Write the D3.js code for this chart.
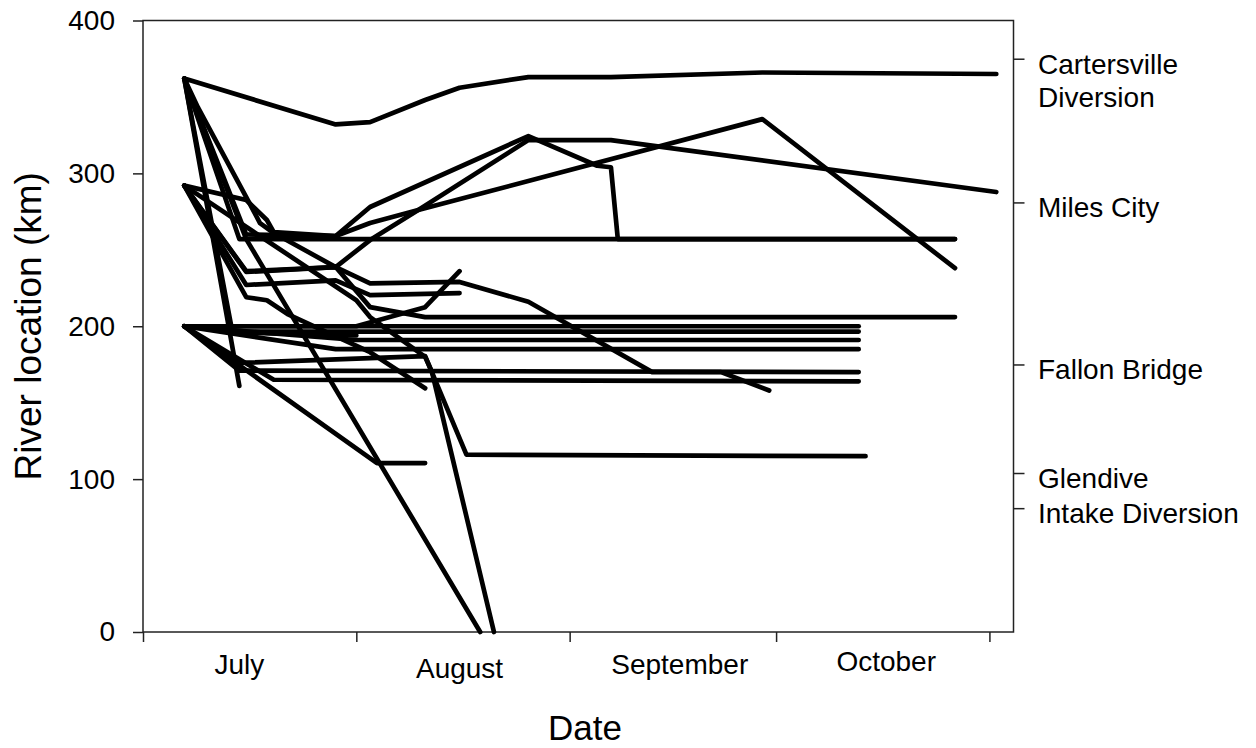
<!DOCTYPE html>
<html>
<head>
<meta charset="utf-8">
<script src="https://cdn.jsdelivr.net/npm/d3@7"></script>
<style>
  body { margin: 0; background: #fff; }
  svg { display: block; }
  text { font-family: "Liberation Sans", Arial, sans-serif; fill: #000; }
</style>
</head>
<body>
<svg id="chart" width="1256" height="748"></svg>
<script>
// ---- data ---------------------------------------------------------------
const year = 2007;

// month tick positions and their labels
const monthStarts = ["07-01", "08-01", "09-01", "10-01", "11-01"];
const monthLabels = ["July", "August", "September", "October"];
const monthLabelAnchors = ["07-15", "08-16", "09-17", "10-17"];
const monthLabelDy = [0, 4, 0, -3];

// left axis ticks (river km)
const yTickValues = [0, 100, 200, 300, 400];

// landmarks along the river (right axis)
const landmarkNames = [["Cartersville", "Diversion"], ["Miles City"], ["Fallon Bridge"], ["Glendive"], ["Intake Diversion"]];
const landmarkKm = [375, 281, 175, 104, 81];

// relocations of tagged fish: [date (mm-dd), river km]
const fish01 = [["07-07", 362], ["07-29", 332], ["08-03", 333.5], ["08-11", 348], ["08-16", 356], ["08-26", 363], ["09-07", 363], ["09-29", 366], ["11-02", 365]];
const fish02 = [["07-07", 362], ["07-16", 260], ["07-29", 259], ["08-03", 278], ["08-26", 324.4], ["09-05", 305], ["09-07", 304], ["09-08", 257], ["10-27", 257]];
const fish03 = [["07-07", 362], ["07-09", 343], ["07-16", 284.5], ["07-18", 267.5], ["07-20", 261], ["07-29", 238.7], ["08-03", 256.4], ["08-10", 276], ["08-26", 321.8], ["09-07", 321.8], ["11-02", 287.8]];
const fish04 = [["07-07", 362], ["07-15", 161]];
const fish05 = [["07-07", 362], ["07-16", 257], ["08-19", 0]];
const fish06 = [["07-07", 292], ["07-16", 282.6], ["07-19", 269.5], ["07-20", 261.6], ["07-29", 259], ["08-03", 267.5], ["08-10", 276], ["09-29", 335.5], ["10-27", 238]];
const fish07 = [["07-07", 292], ["07-16", 235.5], ["07-29", 238.7], ["08-03", 228], ["08-16", 229], ["08-26", 216], ["09-13", 170], ["09-23", 170], ["09-30", 158]];
const fish08 = [["07-07", 292], ["07-16", 227], ["07-29", 230], ["08-03", 220.4], ["08-16", 221.7]];
const fish09 = [["07-07", 292], ["07-16", 219], ["07-19", 217], ["07-22", 208], ["08-03", 183], ["08-11", 159.5]];
const fish10 = [["07-07", 292], ["07-16", 236], ["07-29", 238.7], ["08-03", 212.5], ["08-11", 206], ["10-27", 206]];
const fish11 = [["07-07", 292], ["08-01", 217], ["08-03", 206], ["08-11", 180], ["08-12", 170], ["08-21", 0]];
const fish12 = [["07-07", 200], ["10-13", 200]];
const fish13 = [["07-07", 200], ["07-16", 196.5], ["10-13", 196.5]];
const fish14 = [["07-07", 200], ["08-01", 191], ["10-13", 191]];
const fish15 = [["07-07", 200], ["07-29", 185], ["10-13", 185]];
const fish16 = [["07-07", 200], ["07-15", 171], ["10-13", 170]];
const fish17 = [["07-07", 200], ["07-20", 165], ["10-13", 164]];
const fish18 = [["07-07", 200], ["08-04", 110.5], ["08-11", 110.5]];
const fish19 = [["07-07", 200], ["08-01", 200], ["08-11", 212.5], ["08-16", 236]];
const fish20 = [["07-07", 200], ["07-15", 176], ["08-11", 180.5], ["08-17", 116], ["10-14", 115]];
const fish21 = [["07-07", 362], ["07-14", 196], ["08-01", 194]];
const fish22 = [["07-07", 362], ["07-15", 257], ["10-27", 257]];

const tracks = [fish01, fish02, fish03, fish04, fish05, fish06, fish07, fish08, fish09, fish10, fish11,
                fish12, fish13, fish14, fish15, fish16, fish17, fish18, fish19, fish20, fish21, fish22];

// ---- layout ---------------------------------------------------------------
const parseDay = d3.timeParse("%Y-%m-%d");
const toDate = md => parseDay(`${year}-${md}`);

const plotLeft = 143, plotRight = 1013.5, plotTop = 20.5, plotBottom = 632;
const axisColor = "#222";

const x = d3.scaleTime()
  .domain([new Date(year, 6, 1), new Date(year, 10, 4, 12)])
  .range([plotLeft, plotRight]);
const y = d3.scaleLinear().domain([0, 400]).range([plotBottom, plotTop]);

const svg = d3.select("#chart");

// frame around the plotting area
svg.append("rect")
  .attr("x", plotLeft).attr("y", plotTop)
  .attr("width", plotRight - plotLeft).attr("height", plotBottom - plotTop)
  .attr("fill", "none").attr("stroke", axisColor).attr("stroke-width", 1.5);

// bottom axis: month boundaries
const xAxis = svg.append("g")
  .attr("transform", `translate(0,${plotBottom})`)
  .call(d3.axisBottom(x).tickValues(monthStarts.map(toDate)).tickSize(10).tickFormat(""));
xAxis.select(".domain").remove();
xAxis.selectAll(".tick line").attr("stroke", axisColor).attr("stroke-width", 1.5);

// month names between the boundaries
svg.append("g").selectAll("text")
  .data(monthLabels)
  .join("text")
  .attr("x", (d, i) => x(toDate(monthLabelAnchors[i])))
  .attr("y", (d, i) => 674 + monthLabelDy[i])
  .attr("text-anchor", "middle")
  .attr("font-size", 28)
  .text(d => d);

// left axis: river km
const yAxis = svg.append("g")
  .attr("transform", `translate(${plotLeft},0)`)
  .call(d3.axisLeft(y).tickValues(yTickValues).tickSize(10).tickPadding(18));
yAxis.select(".domain").remove();
yAxis.selectAll(".tick line").attr("stroke", axisColor).attr("stroke-width", 1.5);
yAxis.selectAll(".tick text")
  .attr("font-size", 28)
  .attr("font-family", "Liberation Sans, Arial, sans-serif")
  .attr("fill", "#000");

// right axis: landmarks
const rAxis = svg.append("g")
  .attr("transform", `translate(${plotRight},0)`)
  .call(d3.axisRight(y).tickValues(landmarkKm).tickSize(11).tickFormat(""));
rAxis.select(".domain").remove();
rAxis.selectAll(".tick line").attr("stroke", axisColor).attr("stroke-width", 1.5);

const lm = svg.append("g").selectAll("text")
  .data(landmarkNames)
  .join("text")
  .attr("font-size", 28)
  .attr("y", (d, i) => y(landmarkKm[i]) + 15);
lm.selectAll("tspan")
  .data(d => d)
  .join("tspan")
  .attr("x", 1038)
  .attr("dy", (d, i) => i === 0 ? 0 : 33)
  .text(d => d);

// axis titles
svg.append("text")
  .attr("transform", `translate(40.5,${(plotTop + plotBottom) / 2}) rotate(-90)`)
  .attr("text-anchor", "middle")
  .attr("font-size", 37)
  .text("River location (km)");

svg.append("text")
  .attr("x", 585).attr("y", 740)
  .attr("text-anchor", "middle")
  .attr("font-size", 35)
  .text("Date");

// fish tracks
const line = d3.line()
  .x(d => x(toDate(d[0])))
  .y(d => y(d[1]));

svg.append("g")
  .selectAll("path")
  .data(tracks)
  .join("path")
  .attr("d", line)
  .attr("fill", "none")
  .attr("stroke", "#000")
  .attr("stroke-width", 4.7)
  .attr("stroke-linejoin", "round")
  .attr("stroke-linecap", "round");
</script>
</body>
</html>
